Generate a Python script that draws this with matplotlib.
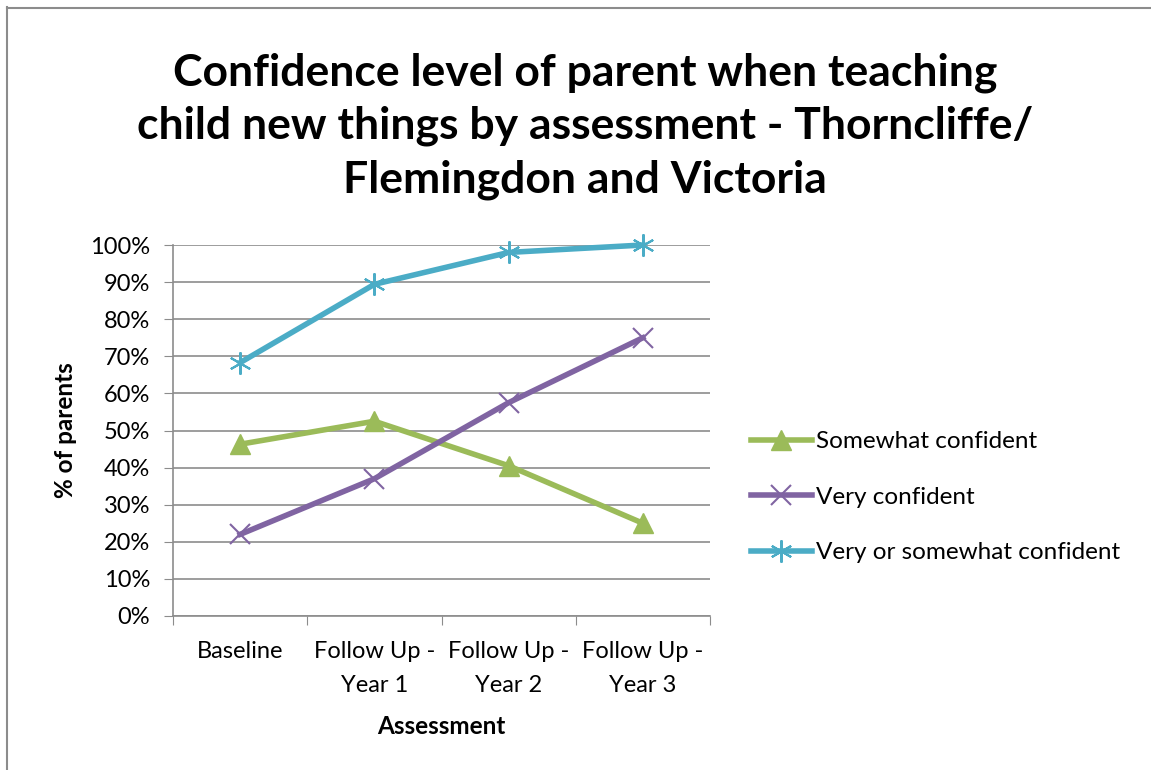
import matplotlib
matplotlib.use('Agg')
import matplotlib.pyplot as plt
from matplotlib.lines import Line2D
from matplotlib.ticker import PercentFormatter

# Data
categories = ['Baseline', 'Follow Up -\nYear 1', 'Follow Up -\nYear 2', 'Follow Up -\nYear 3']
somewhat = [46.3, 52.5, 40.5, 25.0]
very = [22.0, 37.0, 57.5, 75.0]
very_or_somewhat = [68.3, 89.4, 98.0, 100.0]

plt.rcParams['font.family'] = ['Lato', 'DejaVu Sans']

W, H = 1151, 770
fig = plt.figure(figsize=(W / 100, H / 100), dpi=100)
ax = fig.add_axes([173 / W, 1 - 616 / H, (710 - 173) / W, (616 - 245) / H])

# Chart border (only top and left edges show in the picture)
fig.add_artist(Line2D([7 / W, 1], [1 - 7.5 / H, 1 - 7.5 / H], transform=fig.transFigure,
                      color='#8c8c8c', linewidth=1.5))
fig.add_artist(Line2D([7.5 / W, 7.5 / W], [0, 1 - 7 / H], transform=fig.transFigure,
                      color='#8c8c8c', linewidth=1.5))

x = [0.5, 1.5, 2.5, 3.5]
ax.plot(x, somewhat, color='#9bbb59', linewidth=4, marker='^', markersize=15,
        label='Somewhat confident', clip_on=False)
ax.plot(x, very, color='#8064a2', linewidth=4, marker='x', markersize=14,
        markeredgewidth=1.5, label='Very confident', clip_on=False)
ax.plot(x, very_or_somewhat, color='#4bacc6', linewidth=4, marker=(6, 2, 0),
        markersize=16, markeredgewidth=1.5, label='Very or somewhat confident',
        clip_on=False)

ax.set_xlim(0, 4)
ax.set_ylim(0, 100)
ax.set_yticks(range(0, 101, 10))
ax.yaxis.set_major_formatter(PercentFormatter(decimals=0))
ax.set_xticks([0, 1, 2, 3, 4])
ax.set_xticklabels([])
ax.set_xticks(x, minor=True)
ax.set_xticklabels(categories, minor=True, fontsize=17, linespacing=1.75)
ax.tick_params(axis='x', which='minor', length=0, pad=18)
ax.tick_params(axis='x', which='major', length=6.5, color='#8c8c8c', direction='out')
ax.tick_params(axis='y', length=6.5, color='#8c8c8c', labelsize=17, pad=10,
               direction='out')
ax.grid(axis='y', color='#8c8c8c', linewidth=1.2)
ax.set_axisbelow(True)
for s in ['top', 'right']:
    ax.spines[s].set_visible(False)
for s in ['left', 'bottom']:
    ax.spines[s].set_color('#8c8c8c')
    ax.spines[s].set_linewidth(1.2)

ax.set_xlabel('Assessment', fontsize=17.5, fontweight='bold', labelpad=14)
ax.set_ylabel('% of parents', fontsize=17.5, fontweight='bold', labelpad=9)

fig.text(0.508, 1 - 126 / H,
         'Confidence level of parent when teaching\nchild new things by assessment - Thorncliffe/\nFlemingdon and Victoria',
         ha='center', va='center', fontsize=32, fontweight='bold', linespacing=1.4)

ax.legend(loc='center left', bbox_to_anchor=(1.058, 0.32), frameon=False,
          fontsize=17.5, handlelength=2.5, labelspacing=1.42, handletextpad=0.2,
          borderaxespad=0)

fig.savefig('out.png', dpi=100)
